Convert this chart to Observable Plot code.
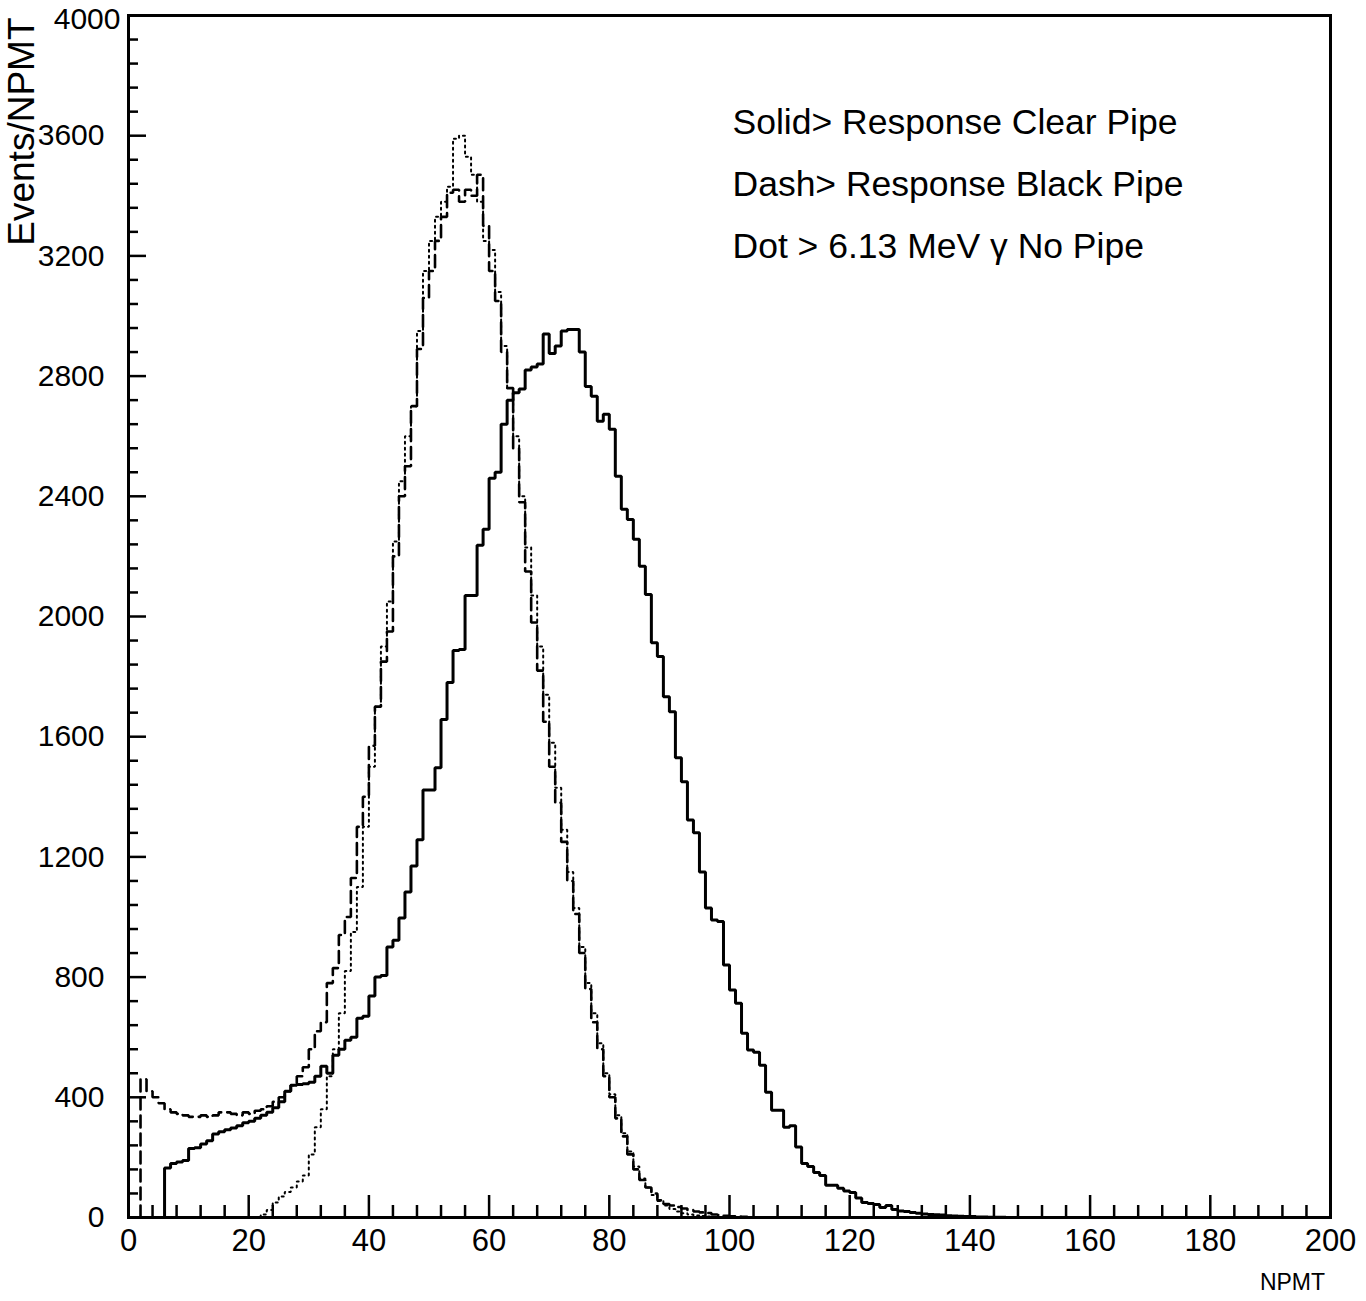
<!DOCTYPE html>
<html>
<head>
<meta charset="utf-8">
<script src="https://cdn.jsdelivr.net/npm/d3@7"></script>
<script src="https://cdn.jsdelivr.net/npm/@observablehq/plot@0.6"></script>
<style>
  html, body { margin: 0; padding: 0; background: #ffffff; }
  #chart svg { display: block; }
</style>
</head>
<body>
<div id="chart"></div>
<script>
// Histogram contents, one value per NPMT bin (bin i covers [i, i+1)), index starts at NPMT = 0
const clearPipe = [
  0, 0, 0, 0, 0, 0, 165, 180, 185, 190,
  230, 232, 245, 255, 278, 285, 292, 298, 305, 315,
  320, 330, 340, 350, 365, 385, 420, 440, 443, 445,
  450, 470, 503, 480, 540, 560, 590, 600, 663, 670,
  737, 800, 805, 900, 923, 997, 1083, 1170, 1257, 1423,
  1423, 1497, 1657, 1780, 1887, 1890, 2070, 2070, 2237, 2290,
  2460, 2480, 2640, 2720, 2745, 2757, 2820, 2830, 2840, 2940,
  2875, 2900, 2950, 2955, 2955, 2880, 2765, 2733, 2650, 2673,
  2623, 2467, 2357, 2323, 2257, 2167, 2073, 1913, 1867, 1733,
  1683, 1530, 1450, 1323, 1280, 1150, 1030, 990, 985, 840,
  757, 713, 613, 557, 550, 507, 417, 357, 357, 300,
  305, 235, 180, 170, 150, 140, 107, 107, 97, 88,
  83, 65, 50, 47, 43, 33, 40, 27, 22, 20,
  17, 14, 12, 10, 9, 8, 6, 5, 4, 3,
  3, 2, 2, 1, 1, 1
];
const blackPipe = [
  0, 0, 460, 420, 400, 380, 360, 350, 345, 340,
  335, 335, 340, 335, 340, 350, 350, 345, 340, 350,
  345, 355, 360, 370, 385, 400, 420, 440, 470, 500,
  560, 620, 650, 780, 830, 940, 1000, 1130, 1300, 1400,
  1570, 1700, 1850, 1950, 2200, 2400, 2500, 2700, 2890, 3060,
  3150, 3250, 3330, 3410, 3420, 3380, 3420, 3400, 3470, 3300,
  3150, 3050, 2880, 2760, 2560, 2380, 2150, 1980, 1820, 1650,
  1500, 1380, 1250, 1120, 1010, 880, 760, 650, 560, 470,
  400, 330, 270, 210, 160, 125, 100, 80, 57, 45,
  40, 35, 30, 25, 20, 17, 15, 10, 8, 6,
  4, 3, 2, 1
];
const noPipe = [
  0, 0, 0, 0, 0, 0, 0, 0, 0, 0,
  0, 0, 0, 0, 0, 0, 0, 0, 0, 0,
  0, 0, 10, 25, 50, 70, 85, 100, 120, 140,
  210, 300, 360, 470, 560, 680, 820, 950, 1100, 1300,
  1500, 1700, 1900, 2050, 2250, 2450, 2600, 2700, 2950, 3150,
  3250, 3330, 3380, 3430, 3590, 3600, 3530, 3470, 3380, 3250,
  3220, 3080, 2900, 2760, 2600, 2400, 2230, 2070, 1900, 1740,
  1580, 1430, 1290, 1150, 1030, 900, 780, 680, 580, 480,
  410, 340, 280, 220, 170, 130, 100, 75, 55, 40,
  28, 20, 14, 10, 7, 5, 3, 2, 1
];

// Axis ticks and texts
const xTicks = [0, 20, 40, 60, 80, 100, 120, 140, 160, 180, 200];
const xMinorTicks = d3.range(0, 201, 4);
const yTicks = [0, 400, 800, 1200, 1600, 2000, 2400, 2800, 3200, 3600, 4000];
const yMinorTicks = d3.range(0, 4001, 80);
const xLabel = "NPMT";
const yLabel = "Events/NPMT";
const legendLines = [
  "Solid> Response Clear Pipe",
  "Dash> Response Black Pipe",
  "Dot > 6.13 MeV \u03b3 No Pipe"
];

// Turn bin contents into a histogram outline
function outline(counts) {
  let s = counts.findIndex(v => v > 0);
  let e = counts.length - 1;
  while (e > s && counts[e] === 0) e--;
  const pts = [{x: s, y: 0}];
  for (let i = s; i <= e; i++) {
    pts.push({x: i, y: counts[i]});
    pts.push({x: i + 1, y: counts[i]});
  }
  pts.push({x: e + 1, y: 0});
  return pts;
}

const W = 1366, H = 1301;
const mL = 128, mR = 36, mT = 15, mB = 84;
const innerW = W - mL - mR, innerH = H - mT - mB;
const font = "'Liberation Sans', Arial, Helvetica, sans-serif";
const topTick = yTicks[yTicks.length - 1];

const chart = Plot.plot({
  width: W,
  height: H,
  marginLeft: mL,
  marginRight: mR,
  marginTop: mT,
  marginBottom: mB,
  x: {domain: [0, 200]},
  y: {domain: [0, 4000]},
  style: {fontFamily: font, background: "#ffffff", color: "#000000"},
  marks: [
    // inward minor / major ticks
    Plot.tickX(xMinorTicks.filter(d => d % 20 !== 0), {x: d => d, insetTop: innerH - 12, stroke: "#000", strokeWidth: 2.5}),
    Plot.tickX(xTicks, {x: d => d, insetTop: innerH - 22, stroke: "#000", strokeWidth: 2.5}),
    Plot.tickY(yMinorTicks.filter(d => d % 400 !== 0), {y: d => d, insetRight: innerW - 10, stroke: "#000", strokeWidth: 2.5}),
    Plot.tickY(yTicks, {y: d => d, insetRight: innerW - 18, stroke: "#000", strokeWidth: 2.5}),
    Plot.axisX({ticks: xTicks, tickSize: 0, tickPadding: 11, fontSize: 31, label: null, tickFormat: d => String(d)}),
    Plot.axisY({ticks: yTicks.filter(d => d !== topTick), tickSize: 0, tickPadding: 24, fontSize: 30, label: null, tickFormat: d => String(d)}),
    // top tick label sits a little lower and to the right, as in the original
    Plot.text([topTick], {y: d => d, frameAnchor: "left", dx: -8, dy: 4, textAnchor: "end", lineAnchor: "middle", fontSize: 30, fill: "#000", text: d => String(d)}),
    // histograms
    Plot.line(outline(noPipe), {x: "x", y: "y", stroke: "#000", strokeWidth: 2, strokeDasharray: "2,4", strokeLinejoin: "miter"}),
    Plot.line(outline(blackPipe), {x: "x", y: "y", stroke: "#000", strokeWidth: 2.6, strokeDasharray: "12,6", strokeLinejoin: "miter"}),
    Plot.line(outline(clearPipe), {x: "x", y: "y", stroke: "#000", strokeWidth: 3, strokeLinejoin: "miter"}),
    Plot.frame({stroke: "#000", strokeWidth: 3}),
    // legend text
    Plot.text([legendLines.join("\n")], {
      frameAnchor: "top-left", dx: 604, dy: 75, textAnchor: "start", lineAnchor: "top",
      lineHeight: 1.74, fontSize: 35.5, fill: "#000"
    }),
    // axis titles
    Plot.text([xLabel], {frameAnchor: "bottom-right", dx: -38, dy: 65, textAnchor: "middle", lineAnchor: "middle", fontSize: 23, fill: "#000"}),
    Plot.text([yLabel], {frameAnchor: "top-left", dx: -106, dy: 2, rotate: -90, textAnchor: "end", lineAnchor: "middle", fontSize: 37, fill: "#000"})
  ]
});

document.getElementById("chart").appendChild(chart);
</script>
</body>
</html>
